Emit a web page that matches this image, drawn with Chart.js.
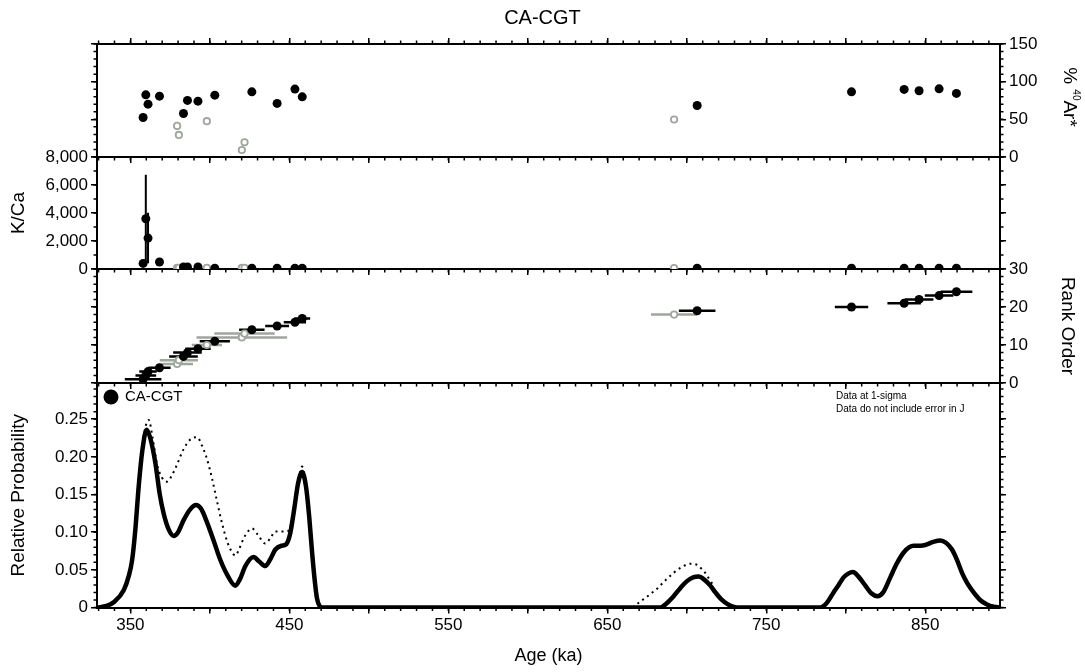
<!DOCTYPE html>
<html>
<head>
<meta charset="utf-8">
<title>CA-CGT</title>
<script src="https://cdn.jsdelivr.net/npm/chart.js@4.4.1/dist/chart.umd.min.js"></script>
<style>
  body { margin: 0; background: #fff; width: 1085px; height: 672px; overflow: hidden; position: relative; }
  canvas { position: absolute; left: 0; }
</style>
</head>
<body>
<canvas id="chartAr" width="1085" height="171" style="top:0px"></canvas>
<canvas id="chartKCa" width="1085" height="140" style="top:143px"></canvas>
<canvas id="chartRank" width="1085" height="142" style="top:255px"></canvas>
<canvas id="chartProb" width="1085" height="303" style="top:369px"></canvas>
<script>
// ---- data ----
const seriesName = 'CA-CGT';
const ageMin = 329;
const ageMax = 897;
const xTickLabels = [350, 450, 550, 650, 750, 850];
const noteLines = ['Data at 1-sigma', 'Data do not include error in J'];

// steps used in the age plateau (black)
const incAge = [358.0, 359.7, 361.1, 368.3, 383.4, 385.9, 392.5, 403.1, 426.4, 442.3, 453.5, 458.1, 706.5, 803.6, 836.7, 846.1, 858.7, 869.6];
const incErr = [11.5, 6.5, 5.5, 7, 9, 9, 8, 9.5, 8, 7.5, 7, 5, 11.5, 10.5, 10.5, 9, 9, 10];
const incRank = [1, 2, 3, 4, 7, 8, 9, 11, 14, 15, 16, 17, 19, 20, 21, 22, 23, 24];
const incAr = [52.4, 82.5, 70.1, 80.8, 57.8, 75.1, 74.1, 82.1, 86.5, 71.1, 90.1, 79.9, 68.4, 86.5, 89.7, 87.9, 90.5, 84.4];
const incKCa = [400, 3590, 2210, 500, 140, 140, 140, 50, 50, 50, 50, 50, 50, 50, 50, 50, 50, 50];
const incKCaErr = [0, 3140, 1800, 0, 0, 0, 0, 0, 0, 0, 0, 0, 0, 0, 0, 0, 0, 0];

// excluded steps (grey, open)
const excAge = [379.4, 380.5, 398.1, 420.1, 421.8, 692.0];
const excErr = [10, 12, 9.5, 28.5, 19, 14.5];
const excRank = [5, 6, 10, 12, 13, 18];
const excAr = [41.3, 29.3, 47.5, 9.3, 19.6, 49.8];
const excKCa = [90, 90, 80, 80, 80, 60];

// probability curve of the included steps (solid)
const pdfAge = [329, 335, 339.5, 345.8, 349, 351.1, 353.1, 355.2, 357.5, 360.2, 362.5, 365.7, 368.5, 371, 374, 377.2, 380, 383.5, 387.5, 391.3, 394.5, 398.2, 402.5, 406.6, 411, 416, 419, 422.3, 427.4, 431, 434.9, 438, 441.2, 445, 448, 450.6, 453, 455.5, 458, 460.5, 462.5, 464.3, 466, 467.4, 470.6,
  683.3, 687, 691.7, 696, 700.1, 704, 707.4, 711, 714.8, 718, 722.1, 726, 731.6,
  784, 788, 792.3, 795.5, 798.6, 801.5, 804.5, 808, 812.3, 816, 820, 823.5, 828, 832, 836.4, 840, 842.6, 847, 850, 855, 859.4, 863, 866.8, 870, 873.1, 876.5, 880.4, 884.5, 888.8, 893, 897];
const pdfVal = [0, 0.002, 0.007, 0.023, 0.042, 0.063, 0.103, 0.160, 0.208, 0.236, 0.225, 0.192, 0.150, 0.124, 0.104, 0.095, 0.100, 0.116, 0.130, 0.136, 0.131, 0.113, 0.088, 0.063, 0.043, 0.029, 0.038, 0.055, 0.067, 0.061, 0.055, 0.064, 0.077, 0.082, 0.084, 0.099, 0.130, 0.165, 0.180, 0.160, 0.120, 0.073, 0.035, 0.012, 0,
  0, 0.005, 0.015, 0.026, 0.035, 0.040, 0.041, 0.037, 0.029, 0.020, 0.010, 0.004, 0,
  0, 0.006, 0.020, 0.030, 0.040, 0.045, 0.047, 0.041, 0.029, 0.019, 0.015, 0.020, 0.040, 0.058, 0.073, 0.080, 0.082, 0.082, 0.083, 0.087, 0.089, 0.086, 0.077, 0.063, 0.046, 0.032, 0.020, 0.010, 0.004, 0.001, 0];

// probability curve of all steps (dotted), null = break
const allAge = [355.2, 358, 361.5, 364, 366.8, 370, 373.1, 376, 379.4, 382.5, 385.7, 389, 392, 395, 398.2, 401.5, 404.5, 407.5, 410.8, 413.5, 416, 418.5, 421.3, 424, 426.5, 430, 434.9, 438, 441.2, 445, 448.6, 451, 452.7, 455.5, 458, 460.5,
  600, 666, 670.8, 676, 681.3, 686.5, 691.7, 697, 702.2, 706, 709, 711.6, 714, 716.5];
const allVal = [0.162, 0.222, 0.249, 0.225, 0.190, 0.172, 0.167, 0.175, 0.190, 0.206, 0.218, 0.225, 0.226, 0.215, 0.197, 0.170, 0.141, 0.113, 0.088, 0.075, 0.069, 0.078, 0.092, 0.101, 0.105, 0.097, 0.085, 0.092, 0.101, 0.101, 0.101, 0.110, 0.127, 0.165, 0.187, 0.165,
  null, 0, 0.008, 0.016, 0.025, 0.036, 0.046, 0.054, 0.058, 0.057, 0.052, 0.046, 0.038, 0.030];

// ---- styling ----
const FONT = '"Liberation Sans", Arial, Helvetica, sans-serif';
const GREY = '#9fa79d';
Chart.defaults.font.family = FONT;
Chart.defaults.font.size = 17;
Chart.defaults.color = '#000';
Chart.defaults.animation = false;
Chart.defaults.events = [];

const toPoints = (xs, ys) => xs.map((x, i) => ({ x, y: ys[i] }));

function hBars(xs, errs, ys) {
  const pts = [];
  xs.forEach((x, i) => {
    pts.push({ x: x - errs[i], y: ys[i] }, { x: x + errs[i], y: ys[i] }, { x, y: null });
  });
  return pts;
}

function vBars(xs, ys, errs) {
  const pts = [];
  xs.forEach((x, i) => {
    if (!errs[i]) return;
    pts.push({ x, y: ys[i] - errs[i] }, { x, y: ys[i] + errs[i] }, { x, y: null });
  });
  return pts;
}

const fixSize = (size) => (s) => {
  if (s.isHorizontal()) s.height = size;
  else s.width = size;
};

const gridOpts = { drawOnChartArea: false, drawTicks: true, tickLength: 6, lineWidth: 1.5, color: '#000' };
const borderOpts = { display: true, width: 2, color: '#000' };

function xAxis(position, showLabels, size, title) {
  return {
    type: 'linear',
    axis: 'x',
    position,
    min: ageMin,
    max: ageMax,
    grid: gridOpts,
    border: borderOpts,
    ticks: {
      display: showLabels,
      stepSize: 50,
      includeBounds: false,
      autoSkip: false,
      maxRotation: 0,
      padding: 2,
      callback: (v) => (xTickLabels.includes(v) ? String(v) : ''),
    },
    title: title
      ? { display: true, text: title, font: { size: 18 }, padding: { top: 0, bottom: 5 } }
      : { display: false },
    afterFit: fixSize(size),
  };
}

function yAxis(position, range, showLabels, size, title, fmt) {
  return {
    type: 'linear',
    axis: 'y',
    position,
    min: range[0],
    max: range[1],
    grid: gridOpts,
    border: borderOpts,
    ticks: {
      display: showLabels,
      stepSize: range[2],
      includeBounds: false,
      autoSkip: false,
      padding: 3,
      callback: fmt || ((v) => v.toLocaleString('en-US')),
    },
    title: title
      ? { display: true, text: title, font: { size: 19 }, padding: { top: position === 'left' ? 7 : 6, bottom: 0 } }
      : { display: false },
    afterFit: fixSize(size),
  };
}

// short minor ticks drawn through each scale
const minorTicks = {
  id: 'minorTicks',
  afterDraw(chart, args, opts) {
    const { ctx, chartArea: a } = chart;
    const len = 3.5;
    ctx.save();
    ctx.strokeStyle = '#000';
    ctx.lineWidth = 1.5;
    ctx.beginPath();
    Object.entries(opts.steps || {}).forEach(([id, step]) => {
      const s = chart.scales[id];
      if (!s) return;
      const first = Math.ceil(s.min / step - 1e-9);
      const last = Math.floor(s.max / step + 1e-9);
      for (let i = first; i <= last; i++) {
        const p = s.getPixelForValue(i * step);
        if (s.isHorizontal()) {
          const y0 = s.position === 'top' ? a.top : a.bottom;
          ctx.moveTo(p, y0);
          ctx.lineTo(p, s.position === 'top' ? y0 - len : y0 + len);
        } else {
          const x0 = s.position === 'left' ? a.left : a.right;
          ctx.moveTo(x0, p);
          ctx.lineTo(s.position === 'left' ? x0 - len : x0 + len, p);
        }
      }
    });
    ctx.stroke();
    ctx.restore();
  },
};

// right-hand title with the superscript mass number
const arTitle = {
  id: 'arTitle',
  afterDraw(chart) {
    const { ctx } = chart;
    const big = '19px ' + FONT;
    const small = '10px ' + FONT;
    ctx.save();
    ctx.translate(1069, 97);
    ctx.rotate(Math.PI / 2);
    ctx.fillStyle = '#000';
    ctx.textBaseline = 'middle';
    ctx.font = big;
    const w1 = ctx.measureText('% ').width;
    const w3 = ctx.measureText('Ar*').width;
    ctx.font = small;
    const w2 = ctx.measureText('40').width;
    let x = -(w1 + w2 + w3) / 2;
    ctx.font = big;
    ctx.fillText('% ', x, 0);
    x += w1;
    ctx.font = small;
    ctx.fillText('40', x, -7);
    x += w2;
    ctx.font = big;
    ctx.fillText('Ar*', x, 0);
    ctx.restore();
  },
};

// legend dot and notes inside the probability panel
const probNotes = {
  id: 'probNotes',
  afterDraw(chart) {
    const { ctx, chartArea: a } = chart;
    ctx.save();
    ctx.fillStyle = '#000';
    ctx.beginPath();
    ctx.arc(a.left + 14, a.top + 14, 7.5, 0, Math.PI * 2);
    ctx.fill();
    ctx.textBaseline = 'middle';
    ctx.font = '15px ' + FONT;
    ctx.fillText(seriesName, a.left + 28, a.top + 14);
    ctx.font = '10px ' + FONT;
    ctx.fillText(noteLines[0], a.right - 164, a.top + 13);
    ctx.fillText(noteLines[1], a.right - 164, a.top + 26);
    ctx.restore();
  },
};

function makePanel(id, cfg) {
  return new Chart(document.getElementById(id), {
    type: 'scatter',
    data: { datasets: cfg.datasets },
    options: {
      responsive: false,
      layout: { padding: { top: cfg.padTop, left: 0, right: 0, bottom: 0 } },
      plugins: {
        legend: { display: false },
        tooltip: { enabled: false },
        title: cfg.title || { display: false },
        minorTicks: { steps: cfg.minor },
      },
      scales: cfg.scales,
    },
    plugins: [minorTicks].concat(cfg.plugins || []),
  });
}

const blackDots = (data, extra) => Object.assign({
  data, backgroundColor: '#000', borderWidth: 0, pointRadius: 4.5,
}, extra);
const greyDots = (data, extra) => Object.assign({
  data, backgroundColor: '#fff', borderColor: GREY, borderWidth: 1.8, pointRadius: 3.2,
}, extra);
const segs = (data, color, width) => ({
  data, showLine: true, borderColor: color, borderWidth: width, pointRadius: 0, spanGaps: false,
});

// % 40Ar*
makePanel('chartAr', {
  padTop: 0,
  title: { display: true, text: seriesName, font: { size: 20, weight: 'normal' }, color: '#000', padding: { top: 6, bottom: 0 } },
  datasets: [
    blackDots(toPoints(incAge, incAr)),
    greyDots(toPoints(excAge, excAr)),
  ],
  scales: {
    x: xAxis('bottom', false, 14),
    xt: xAxis('top', false, 14),
    y: yAxis('left', [0, 150, 50], false, 97),
    y2: yAxis('right', [0, 150, 50], true, 85),
  },
  minor: { x: 10, xt: 10, y: 10, y2: 10 },
  plugins: [arTitle],
});

// K/Ca
makePanel('chartKCa', {
  padTop: 14,
  datasets: [
    blackDots(toPoints(incAge, incKCa), { clip: 0 }),
    greyDots(toPoints(excAge, excKCa), { clip: 0 }),
    Object.assign(segs(vBars(incAge, incKCa, incKCaErr), '#000', 2), { clip: 0 }),
  ],
  scales: {
    x: xAxis('bottom', false, 14),
    y: yAxis('left', [0, 8000, 2000], true, 97, 'K/Ca'),
    y2: yAxis('right', [0, 8000, 2000], false, 85),
  },
  minor: { x: 10, y: 1000, y2: 1000 },
});

// Rank order
makePanel('chartRank', {
  padTop: 14,
  datasets: [
    blackDots(toPoints(incAge, incRank)),
    greyDots(toPoints(excAge, excRank)),
    segs(hBars(incAge, incErr, incRank), '#000', 2.5),
    segs(hBars(excAge, excErr, excRank), GREY, 2.5),
  ],
  scales: {
    x: xAxis('bottom', false, 14),
    y: yAxis('left', [0, 30, 10], false, 97),
    y2: yAxis('right', [0, 30, 10], true, 85, 'Rank Order'),
  },
  minor: { x: 10, y: 2, y2: 2 },
});

// Relative probability
const probFmt = (v) => (v === 0 ? '0' : v.toFixed(2));
makePanel('chartProb', {
  padTop: 14,
  datasets: [
    {
      data: toPoints(pdfAge, pdfVal), showLine: true, borderColor: '#000', borderWidth: 4.5,
      pointRadius: 0, cubicInterpolationMode: 'monotone', borderJoinStyle: 'round',
    },
    {
      data: toPoints(allAge, allVal), showLine: true, borderColor: '#000', borderWidth: 2,
      borderDash: [2, 4], pointRadius: 0, cubicInterpolationMode: 'monotone', spanGaps: false,
    },
  ],
  scales: {
    x: xAxis('bottom', true, 64.5, 'Age (ka)'),
    y: yAxis('left', [0, 0.298, 0.05], true, 97, 'Relative Probability', probFmt),
    y2: yAxis('right', [0, 0.298, 0.05], false, 85),
  },
  minor: { x: 10, y: 0.01, y2: 0.01 },
  plugins: [probNotes],
});
</script>
</body>
</html>
